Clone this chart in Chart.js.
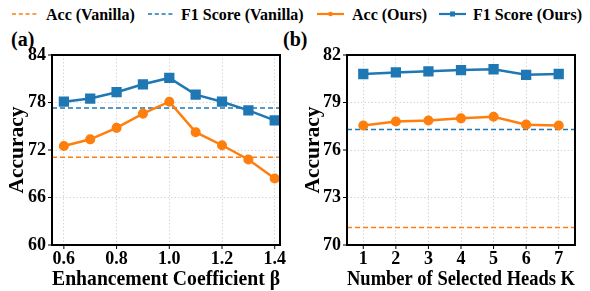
<!DOCTYPE html>
<html>
<head>
<meta charset="utf-8">
<script src="https://cdn.jsdelivr.net/npm/chart.js@4.4.0/dist/chart.umd.min.js"></script>
<style>
  body { margin: 0; width: 590px; height: 291px; background: #fff; position: relative; overflow: hidden;
         font-family: "Liberation Serif", "Times New Roman", serif; font-weight: bold; color: #000; }
  canvas { position: absolute; top: 22px; }
  .leg { position: absolute; top: 5px; font-size: 16px; line-height: 19px; white-space: nowrap; }
  .sample { position: absolute; top: 10px; }
  .panel { position: absolute; top: 27px; font-size: 20px; line-height: 24px; }
</style>
</head>
<body>
<svg class="sample" style="left:12px" width="25" height="8"><line x1="0" y1="4" x2="25" y2="4" stroke="#ff7f0e" stroke-width="1.5" stroke-dasharray="4,2.8"/></svg>
<span class="leg" style="left:46px">Acc (Vanilla)</span>
<svg class="sample" style="left:148px" width="25" height="8"><line x1="0" y1="4" x2="25" y2="4" stroke="#1f77b4" stroke-width="1.5" stroke-dasharray="4,2.8"/></svg>
<span class="leg" style="left:181px">F1 Score (Vanilla)</span>
<svg class="sample" style="left:317px" width="27" height="8"><line x1="0" y1="4" x2="27" y2="4" stroke="#ff7f0e" stroke-width="2.2"/><circle cx="13.5" cy="4" r="2.3" fill="#ff7f0e"/></svg>
<span class="leg" style="left:352px">Acc (Ours)</span>
<svg class="sample" style="left:439px" width="27" height="8"><line x1="0" y1="4" x2="27" y2="4" stroke="#1f77b4" stroke-width="2.2"/><rect x="11" y="1.5" width="5" height="5" fill="#1f77b4"/></svg>
<span class="leg" style="left:473px">F1 Score (Ours)</span>

<div class="panel" style="left:11px">(a)</div>
<div class="panel" style="left:283px">(b)</div>

<canvas id="chartA" width="295" height="269" style="left:0px"></canvas>
<canvas id="chartB" width="300" height="269" style="left:290px"></canvas>

<script>
// panel (a): enhancement coefficient beta
const betaValues = [0.6, 0.7, 0.8, 0.9, 1.0, 1.1, 1.2, 1.3, 1.4];
const accOursA = [72.5, 73.35, 74.8, 76.6, 78.1, 74.25, 72.6, 70.8, 68.4];
const f1OursA = [78.1, 78.5, 79.3, 80.3, 81.1, 79.0, 78.1, 77.0, 75.75];
const xTicksA = [0.6, 0.8, 1.0, 1.2, 1.4];
const yTicksA = [60, 66, 72, 78, 84];

// panel (b): number of selected heads K
const headValues = [1, 2, 3, 4, 5, 6, 7];
const accOursB = [77.55, 77.8, 77.86, 78.0, 78.1, 77.6, 77.55];
const f1OursB = [80.8, 80.9, 80.97, 81.05, 81.1, 80.75, 80.8];
const xTicksB = [1, 2, 3, 4, 5, 6, 7];
const yTicksB = [70, 73, 76, 79, 82];

// baselines
const accVanilla = 71.1;
const f1Vanilla = 77.3;

const ORANGE = '#ff7f0e';
const BLUE = '#1f77b4';
const FONT = 'Liberation Serif';

// black frame + small outward tick marks
const framePlugin = {
  id: 'frame',
  afterDraw(chart) {
    const ctx = chart.ctx, a = chart.chartArea;
    const xs = chart.scales.x, ys = chart.scales.y;
    ctx.save();
    ctx.strokeStyle = '#000';
    ctx.lineWidth = 1;
    ctx.beginPath();
    xs.ticks.forEach(t => {
      const px = xs.getPixelForValue(t.value);
      ctx.moveTo(px, a.bottom); ctx.lineTo(px, a.bottom + 4);
    });
    ys.ticks.forEach(t => {
      const py = ys.getPixelForValue(t.value);
      ctx.moveTo(a.left, py); ctx.lineTo(a.left - 4, py);
    });
    ctx.stroke();
    ctx.lineWidth = 2;
    ctx.strokeRect(a.left, a.top, a.right - a.left, a.bottom - a.top);
    ctx.restore();
  }
};

function makeChart(id, xs, acc, f1, xMin, xMax, xTicks, yTicks, xTitle, yWidth, yTitleLH, fmt) {
  const pts = ys => xs.map((x, i) => ({ x: x, y: ys[i] }));
  const flat = v => [{ x: xMin, y: v }, { x: xMax, y: v }];
  return new Chart(document.getElementById(id), {
    type: 'line',
    data: {
      datasets: [
        { label: 'F1 Score (Ours)', data: pts(f1), borderColor: BLUE, backgroundColor: BLUE,
          borderWidth: 2.5, pointStyle: 'rect', pointRadius: 5.5, tension: 0 },
        { label: 'Acc (Ours)', data: pts(acc), borderColor: ORANGE, backgroundColor: ORANGE,
          borderWidth: 2.5, pointStyle: 'circle', pointRadius: 3.8, tension: 0 },
        { label: 'F1 Score (Vanilla)', data: flat(f1Vanilla), borderColor: BLUE,
          borderWidth: 1.5, borderDash: [5, 3], pointRadius: 0 },
        { label: 'Acc (Vanilla)', data: flat(accVanilla), borderColor: ORANGE,
          borderWidth: 1.5, borderDash: [5, 3], pointRadius: 0 }
      ]
    },
    options: {
      responsive: false,
      animation: false,
      layout: { padding: { left: 0, right: 15, top: 33, bottom: 0 } },
      plugins: { legend: { display: false }, tooltip: { enabled: false } },
      scales: {
        x: {
          type: 'linear', min: xMin, max: xMax,
          afterBuildTicks: s => { s.ticks = xTicks.map(v => ({ value: v })); },
          afterFit: s => { s.height = 46; },
          grid: { color: 'rgba(0,0,0,0.2)', lineWidth: 0.8, drawTicks: false },
          border: { display: false, dash: [1.5, 2] },
          ticks: { color: '#000', padding: 4, maxRotation: 0, autoSkip: false,
                   font: { family: FONT, size: 18, weight: 'bold' }, callback: v => fmt(v) },
          title: { display: true, text: xTitle, color: '#000', padding: 0,
                   font: { family: FONT, size: 21.5, weight: 'bold', lineHeight: 1.05 } }
        },
        y: {
          min: yTicks[0], max: yTicks[yTicks.length - 1],
          afterBuildTicks: s => { s.ticks = yTicks.map(v => ({ value: v })); },
          afterFit: s => { s.width = yWidth; },
          grid: { color: 'rgba(0,0,0,0.2)', lineWidth: 0.8, drawTicks: false },
          border: { display: false, dash: [1.5, 2] },
          ticks: { color: '#000', padding: 6, autoSkip: false,
                   font: { family: FONT, size: 18, weight: 'bold' } },
          title: { display: true, text: 'Accuracy', color: '#000', padding: 0,
                   font: { family: FONT, size: 21.5, weight: 'bold', lineHeight: yTitleLH } }
        }
      }
    },
    plugins: [framePlugin]
  });
}

makeChart('chartA', betaValues, accOursA, f1OursA, 0.555, 1.42, xTicksA, yTicksA,
  'Enhancement Coefficient \u03b2', 52, 1.65, v => v.toFixed(1));
makeChart('chartB', headValues, accOursB, f1OursB, 0.5, 7.5, xTicksB, yTicksB,
  'Number of Selected Heads K', 57, 2.2, v => String(v));
</script>
</body>
</html>
